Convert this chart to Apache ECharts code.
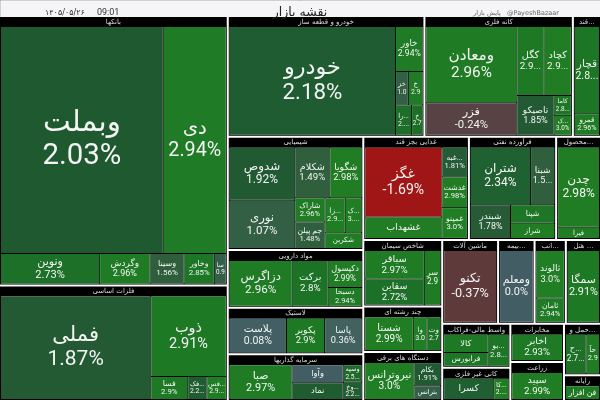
<!DOCTYPE html>
<html><head><meta charset="utf-8">
<script src="https://cdn.jsdelivr.net/npm/echarts@6/dist/echarts.min.js"></script>
<style>html,body{margin:0;padding:0;background:#000}#c{width:600px;height:400px}</style>
</head><body><div id="c"></div>
<script>
const sectors = ['بانکها','فلزات اساسی','خودرو و قطعه ساز','کانه فلزی','قند و شکر','شیمیایی','مواد دارویی','لاستیک','سرمایه گذاریها','غذایی بجز قند','فرآورده نفتی','محصولات فلزی','شاخص سیمان','چند رشته ای','دستگاه های برقی','ماشین آلات','بیمه و بازنشسته','انبوه سازی','هتل و رستوران','واسط مالی-فراکاب','کانی غیر فلزی','مخابرات','زراعت','حمل و نقل','رایانه'];
const stockNames = [
 ['وبملت','دی','ونوین','وگردش','وسینا','وخاور','سامان'],
 ['فملی','ذوب','فسا','فکسار','فسرب'],
 ['خودرو','خاور','خزامیا','خساپا','رانفور','خگستر'],
 ['ومعادن','فزر','کگل','کچاد','تاصیکو','کاما','کسافر'],
 ['قچار','قمرو'],
 ['شدوص','نوری','شکلام','شگویا','شاراک','جم پیلن','زاگرس','کیمیاتک','شکربن'],
 ['دزاگرس','برکت','دکپسول','دسبحا'],
 ['پلاست','پکویر','پاسا'],
 ['صبا','وآوا','نماد','وسپه','وخارزم'],
 ['غگز','غشهداب','غبهنوش','غدشت','غمینو'],
 ['شتران','شبنا','شبندر','شپنا','شراز'],
 ['چدن','فیرا'],
 ['سباقر','سقاین','سرود'],
 ['شستا','وامید','وتعاون'],
 ['نیروترانس','بکام','بترانس'],
 ['تکنو'],
 ['ومعلم'],
 ['ثالوند','ثامان'],
 ['سمگا'],
 ['کالا','فرابورس','بورس'],
 ['کسرا','کابگن'],
 ['اخابر'],
 ['سپید'],
 ['حکشتی','حآفرین'],
 ['فن افزار']
];
const stockCaps = [
 [38860,15032,3167,1612,1085,967,381],
 [17452,6815,956,499,499],
 [20202,1377,480,544,544,384],
 [7791,3309,2113,2113,1665,384,384],
 [2701,666],
 [3940,3582,2015,1836,828,911,806,655,655],
 [3683,2105,1157,807],
 [2706,1804,1760],
 [2970,1247,1173,440,440],
 [6226,1900,873,906,905],
 [4029,1611,1567,940,783],
 [4032,560],
 [2134,1952,1122],
 [2282,644,644],
 [2475,849,501],
 [4648],
 [3034],
 [1720,880],
 [2925],
 [1160,870,945],
 [1720,520],
 [2025],
 [2080],
 [1140,750],
 [945]
];
const stockChanges = [
 [2.03,2.94,2.73,2.96,1.56,2.85,0.94],
 [1.87,2.91,2.90,2.22,2.98],
 [2.18,2.94,1.01,2.94,2.68,2.70],
 [2.96,-0.24,2.91,2.99,1.85,2.83,3.00],
 [2.86,2.96],
 [1.92,1.07,1.49,2.98,2.96,1.48,2.98,3.00,2.97],
 [2.96,2.80,2.99,2.94],
 [0.08,2.90,0.36],
 [2.97,0.04,2.22,2.58,2.23],
 [-1.69,2.99,1.81,2.98,3.00],
 [2.34,1.51,1.78,2.84,2.98],
 [2.98,2.98],
 [2.97,2.72,2.97],
 [2.99,3.00,2.79],
 [3.00,1.91,0.94],
 [-0.37],
 [0.00],
 [3.00,2.94],
 [2.91],
 [2.90,2.86,2.83],
 [2.28,2.99],
 [2.93],
 [2.99],
 [2.75,2.96],
 [2.93]
];

const stops = [[-1.7,[160,22,22]],[-0.3,[92,60,60]],[0,[66,94,100]],[0.4,[66,98,95]],[1.0,[52,95,70]],[1.5,[48,95,62]],[2.0,[30,88,48]],[2.3,[32,95,50]],[2.8,[28,115,38]],[3.0,[32,126,36]]];
function colorFor(v){
  if(v<=stops[0][0]) return 'rgb('+stops[0][1].join(',')+')';
  for(let i=1;i<stops.length;i++){
    if(v<=stops[i][0]){
      const a=stops[i-1], b=stops[i], t=(v-a[0])/(b[0]-a[0]);
      const c=a[1].map((x,k)=>Math.round(x+(b[1][k]-x)*t));
      return 'rgb('+c.join(',')+')';
    }
  }
  return 'rgb('+stops[stops.length-1][1].join(',')+')';
}
function fmt(v){ let s=v.toFixed(2); if(s.endsWith('0')) s=v.toFixed(1); return s+'%'; }

const data = sectors.map((sec,i)=>({
  name: sec,
  children: stockNames[i].map((n,j)=>{
    const v = stockCaps[i][j], ch = stockChanges[i][j];
    const fs = Math.max(5.5, Math.min(30, 3.8 + Math.sqrt(v)*0.13));
    return {
      name: n, value: v, change: ch,
      itemStyle: { color: colorFor(ch) },
      label: { fontSize: fs, lineHeight: fs*1.12 }
    };
  })
}));

const chart = echarts.init(document.getElementById('c'), null, {renderer:'canvas'});
chart.setOption({
  backgroundColor: '#000',
  animation: false,
  graphic: [
    { type:'rect', left:0, top:0, shape:{width:600,height:17}, style:{fill:'#f5f5f7', stroke:'#cfcfd4', lineWidth:1} }
  ],
  title: [
    { text:'نقشه بازار', left:'center', top:1, textStyle:{fontSize:12.5, fontWeight:'normal', color:'#222', fontFamily:'"DejaVu Sans", sans-serif'} },
    { text:'۱۴۰۵/۰۵/۲۶', left:40, top:4, textStyle:{fontSize:8, fontWeight:'normal', color:'#333', fontFamily:'"DejaVu Sans", sans-serif'} },
    { text:'09:01', left:92, top:3, textStyle:{fontSize:9, fontWeight:'normal', color:'#333', fontFamily:'Roboto, sans-serif'} },
    { text:'پایش بازار', left:468, top:5, textStyle:{fontSize:6.5, fontWeight:'normal', color:'#666', fontFamily:'"DejaVu Sans", sans-serif'} },
    { text:'@PayeshBazaar', left:502, top:5, textStyle:{fontSize:6.5, fontWeight:'normal', color:'#666', fontFamily:'"DejaVu Sans", sans-serif'} }
  ],
  series: [{
    type: 'treemap',
    left: 0, top: 17, width: 600, height: 383,
    roam: false, nodeClick: false, sort: false,
    breadcrumb: { show: false },
    data: data,
    label: {
      show: true, position: 'inside', align: 'center', verticalAlign: 'middle',
      padding: 0, color: '#f4f4f4', fontFamily: 'Roboto, "DejaVu Sans", sans-serif',
      formatter: p => (p.data && p.data.change != null) ? p.name + '\n' + fmt(p.data.change) : p.name
    },
    upperLabel: {
      show: true, height: 10, fontSize: 7, color: '#dcdcdc', padding: 0,
      fontFamily: '"DejaVu Sans", sans-serif', align: 'center', position: 'inside',
      formatter: '{b}'
    },
    levels: [
      { itemStyle: { color:'#000', borderWidth: 0, gapWidth: 2 }, upperLabel: { show: false } },
      { itemStyle: { color:'#000', borderColor: '#000', borderWidth: 1, gapWidth: 1 } },
      { itemStyle: { borderWidth: 0, gapWidth: 0 } }
    ]
  }]
});
</script></body></html>
